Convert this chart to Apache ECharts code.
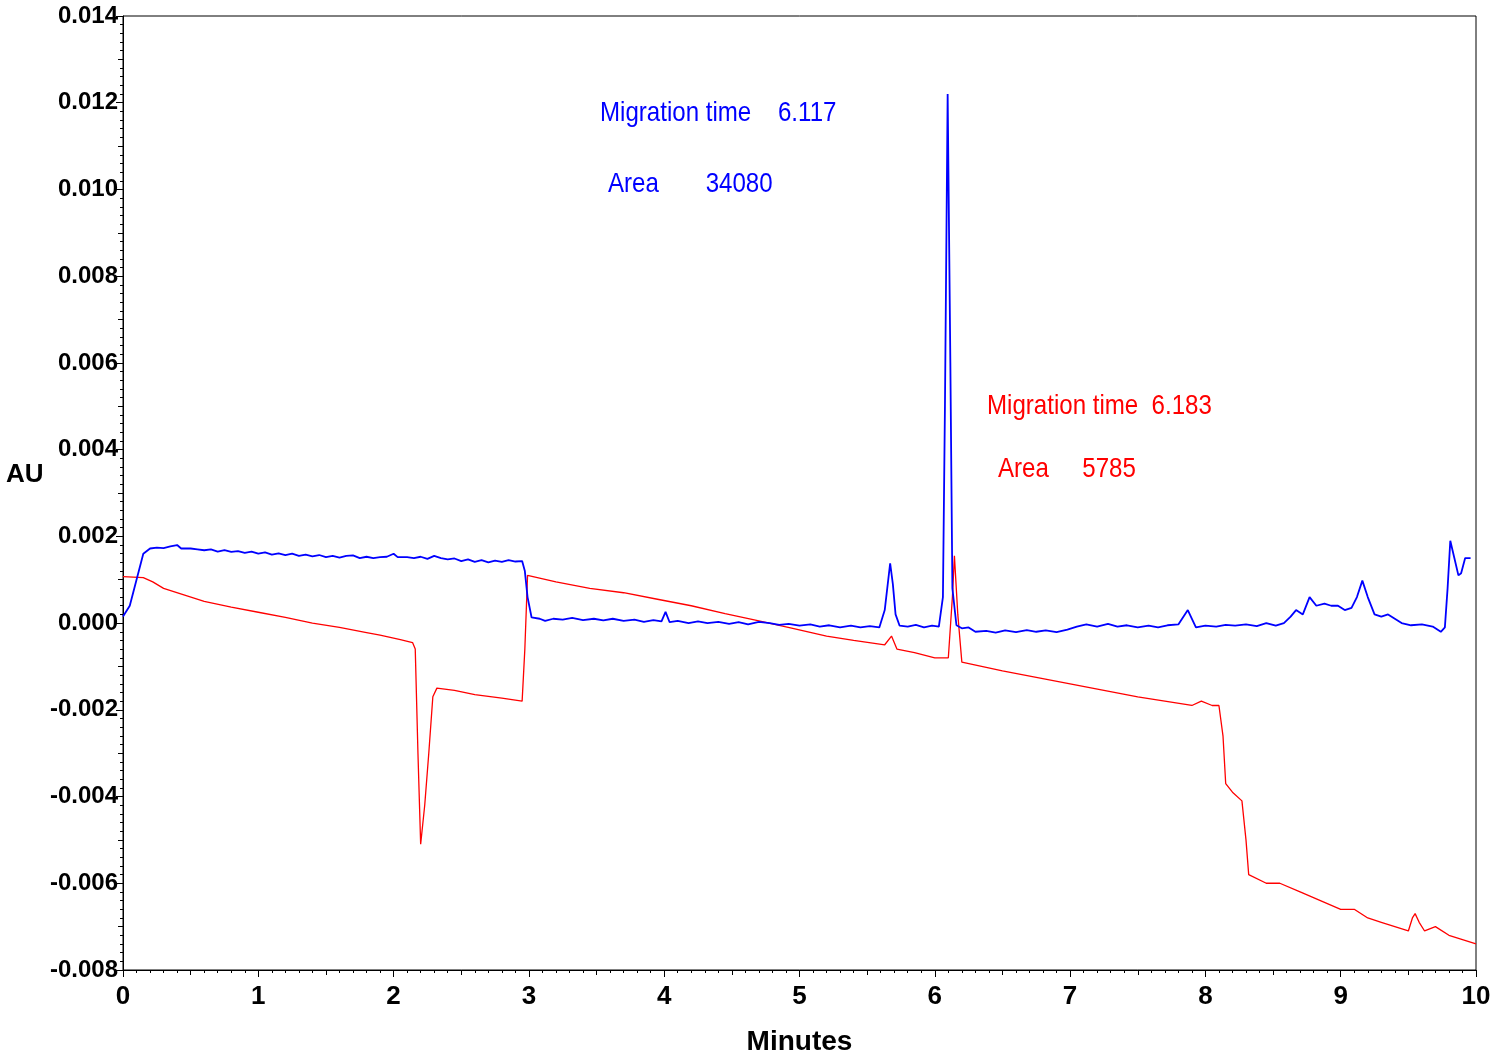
<!DOCTYPE html>
<html>
<head>
<meta charset="utf-8">
<script src="https://cdn.jsdelivr.net/npm/echarts@6/dist/echarts.min.js"></script>
<style>
  html, body { margin: 0; padding: 0; background: #fff; }
  #chart { width: 1494px; height: 1062px; }
</style>
</head>
<body>
<div id="chart"></div>
<script>
// electropherogram traces, [minutes, AU]
const blueTrace = [
  [0.00, 0.00015], [0.05, 0.0004], [0.10, 0.0010], [0.15, 0.0016], [0.20, 0.00172],
  [0.25, 0.00174], [0.30, 0.00173], [0.35, 0.00177], [0.40, 0.0018], [0.43, 0.00172],
  [0.50, 0.00172], [0.55, 0.00170], [0.60, 0.00168], [0.65, 0.00170], [0.70, 0.00165],
  [0.75, 0.00168], [0.80, 0.00164], [0.85, 0.00166], [0.90, 0.00162], [0.95, 0.00165],
  [1.00, 0.00160], [1.05, 0.00163], [1.10, 0.00158], [1.15, 0.00161], [1.20, 0.00157],
  [1.25, 0.00160], [1.30, 0.00155], [1.35, 0.00158], [1.40, 0.00154], [1.45, 0.00157],
  [1.50, 0.00152], [1.55, 0.00155], [1.60, 0.00151], [1.65, 0.00155], [1.70, 0.00156],
  [1.75, 0.00150], [1.80, 0.00153], [1.85, 0.00150], [1.90, 0.00152], [1.95, 0.00153],
  [2.00, 0.00160], [2.03, 0.00152], [2.10, 0.00152], [2.15, 0.00150], [2.20, 0.00153],
  [2.25, 0.00148], [2.30, 0.00155], [2.35, 0.00150], [2.40, 0.00147], [2.45, 0.00149],
  [2.50, 0.00143], [2.55, 0.00147], [2.60, 0.00141], [2.65, 0.00145], [2.70, 0.00140],
  [2.75, 0.00144], [2.80, 0.00141], [2.85, 0.00145], [2.90, 0.00142], [2.95, 0.00143],
  [2.97, 0.00120], [2.99, 0.0006], [3.02, 0.00013], [3.08, 0.0001], [3.12, 0.00005],
  [3.18, 0.0001], [3.25, 0.00008], [3.32, 0.00012], [3.40, 0.00007], [3.48, 0.0001],
  [3.55, 0.00006], [3.62, 0.0001], [3.70, 0.00005], [3.78, 0.00008], [3.85, 0.00003],
  [3.92, 0.00007], [3.98, 0.00004], [4.01, 0.00026], [4.04, 0.00002], [4.10, 0.00005],
  [4.18, 0.0], [4.25, 0.00004], [4.32, 0.0], [4.40, 0.00003], [4.48, -0.00002],
  [4.55, 0.00002], [4.62, -0.00003], [4.70, 0.00003], [4.78, 0.0], [4.85, -0.00004],
  [4.92, -0.00002], [5.00, -0.00006], [5.08, -0.00003], [5.15, -0.00008], [5.22, -0.00005],
  [5.30, -0.0001], [5.38, -0.00006], [5.45, -0.0001], [5.52, -0.00007], [5.59, -0.0001],
  [5.63, 0.0003], [5.67, 0.00138], [5.69, 0.0009], [5.71, 0.0002], [5.74, -0.00006],
  [5.80, -0.00008], [5.86, -0.00004], [5.92, -0.0001], [5.98, -0.00006], [6.03, -0.00008],
  [6.06, 0.0006], [6.075, 0.005], [6.095, 0.0122], [6.115, 0.006], [6.13, 0.0008],
  [6.16, -0.00005], [6.20, -0.00012], [6.25, -0.0001], [6.30, -0.0002], [6.38, -0.00018],
  [6.45, -0.00022], [6.52, -0.00017], [6.60, -0.00021], [6.68, -0.00016], [6.75, -0.0002],
  [6.82, -0.00017], [6.90, -0.00021], [6.98, -0.00015], [7.05, -0.00008], [7.12, -0.00003],
  [7.20, -0.00008], [7.28, -0.00002], [7.35, -0.00008], [7.42, -0.00005], [7.50, -0.0001],
  [7.58, -0.00006], [7.65, -0.0001], [7.72, -0.00005], [7.80, -0.00003], [7.87, 0.0003],
  [7.93, -0.0001], [8.00, -0.00006], [8.08, -0.00008], [8.15, -0.00004], [8.22, -0.00006],
  [8.30, -0.00003], [8.38, -0.00007], [8.45, 0.0], [8.52, -0.00006], [8.58, 0.0],
  [8.63, 0.00015], [8.67, 0.00030], [8.72, 0.0002], [8.77, 0.0006], [8.82, 0.0004],
  [8.88, 0.00045], [8.93, 0.0004], [8.98, 0.0004], [9.03, 0.0003], [9.08, 0.00035],
  [9.12, 0.0006], [9.16, 0.00098], [9.20, 0.0006], [9.25, 0.0002], [9.30, 0.00015],
  [9.35, 0.0002], [9.40, 0.0001], [9.45, 0.0], [9.52, -0.00005], [9.60, -0.00003],
  [9.68, -0.00008], [9.74, -0.0002], [9.77, -0.0001], [9.79, 0.0008], [9.81, 0.0019],
  [9.84, 0.0015], [9.87, 0.0011], [9.89, 0.00115], [9.92, 0.0015], [9.96, 0.0015]
];
const redTrace = [
  [0.00, 0.00107], [0.15, 0.00105], [0.22, 0.00095], [0.30, 0.0008], [0.45, 0.00065],
  [0.60, 0.0005], [0.80, 0.00037], [1.00, 0.00025], [1.20, 0.00013], [1.40, 0.0],
  [1.60, -0.0001], [1.80, -0.00022], [1.90, -0.00028], [2.05, -0.00038], [2.14, -0.00045],
  [2.16, -0.0006], [2.18, -0.003], [2.20, -0.0051], [2.23, -0.0042], [2.26, -0.003],
  [2.29, -0.0017], [2.32, -0.0015], [2.45, -0.00155], [2.60, -0.00165], [2.80, -0.00173],
  [2.95, -0.0018], [2.97, -0.0006], [2.99, 0.0011], [3.20, 0.00095], [3.45, 0.0008],
  [3.70, 0.0007], [3.95, 0.00055], [4.20, 0.0004], [4.45, 0.00022], [4.70, 0.00005],
  [4.95, -0.00012], [5.20, -0.0003], [5.40, -0.0004], [5.63, -0.0005], [5.68, -0.0003],
  [5.72, -0.0006], [5.85, -0.00068], [6.00, -0.0008], [6.10, -0.0008], [6.13, 0.0006],
  [6.145, 0.00155], [6.17, 0.0002], [6.20, -0.0009], [6.50, -0.0011], [6.75, -0.00125],
  [7.00, -0.0014], [7.25, -0.00155], [7.50, -0.0017], [7.70, -0.0018], [7.90, -0.0019],
  [7.97, -0.0018], [8.05, -0.0019], [8.10, -0.0019], [8.13, -0.0026], [8.15, -0.0037],
  [8.20, -0.0039], [8.27, -0.0041], [8.30, -0.005], [8.32, -0.0058], [8.45, -0.0060],
  [8.55, -0.0060], [8.70, -0.0062], [8.85, -0.0064], [9.00, -0.0066], [9.10, -0.0066],
  [9.20, -0.0068], [9.30, -0.0069], [9.40, -0.0070], [9.50, -0.0071], [9.53, -0.0068],
  [9.55, -0.0067], [9.58, -0.0069], [9.62, -0.0071], [9.70, -0.0070], [9.80, -0.0072],
  [9.90, -0.0073], [10.0, -0.0074]
];
const blueNote = ['Migration time    6.117', 'Area       34080'];
const redNote = ['Migration time  6.183', 'Area     5785'];

const FONT = '"Liberation Sans Narrow", "Arial Narrow", "Liberation Sans", Arial, sans-serif';
const noteStyle = (text, color) => ({ text: text, fontFamily: FONT, fontSize: 28, fill: color });

const chart = echarts.init(document.getElementById('chart'));
const option = {
  animation: false,
  backgroundColor: '#fff',
  grid: { left: 123, right: 18, top: 16, bottom: 92, show: true, borderColor: '#000', borderWidth: 1 },
  xAxis: [{
    type: 'value', min: 0, max: 10, interval: 1,
    name: 'Minutes', nameLocation: 'middle', nameGap: 58,
    nameTextStyle: { fontFamily: FONT, fontWeight: 'bold', fontSize: 28, color: '#000' },
    axisLine: { onZero: false, lineStyle: { color: '#000', width: 1 } },
    axisTick: { show: true, length: 7, lineStyle: { color: '#000' } },
    minorTick: { show: true, splitNumber: 10, length: 3, lineStyle: { color: '#000' } },
    axisLabel: { fontFamily: FONT, fontWeight: 'bold', fontSize: 26, color: '#000', margin: 14 },
    splitLine: { show: false }
  }, {
    type: 'value', min: 0, max: 10, interval: 0.5, position: 'bottom',
    axisLine: { show: false, onZero: false }, axisLabel: { show: false }, splitLine: { show: false },
    axisTick: { show: true, length: 5, lineStyle: { color: '#000' } }
  }],
  yAxis: [{
    type: 'value', min: -0.008, max: 0.014, interval: 0.002,
    axisLine: { show: true, onZero: false, lineStyle: { color: '#000', width: 1 } },
    axisTick: { show: true, length: 7, lineStyle: { color: '#000' } },
    minorTick: { show: true, splitNumber: 10, length: 3, lineStyle: { color: '#000' } },
    axisLabel: {
      fontFamily: FONT, fontWeight: 'bold', fontSize: 24, color: '#000', margin: 5,
      formatter: v => v.toFixed(3)
    },
    splitLine: { show: false }
  }, {
    type: 'value', min: -0.008, max: 0.014, interval: 0.001, position: 'left',
    axisLine: { show: false, onZero: false }, axisLabel: { show: false }, splitLine: { show: false },
    axisTick: { show: true, length: 5, lineStyle: { color: '#000' } }
  }],
  graphic: [
    { type: 'text', left: 6, top: 462, style: { text: 'AU', fontFamily: FONT, fontWeight: 'bold', fontSize: 26, fill: '#000' } },
    { type: 'text', x: 600, y: 99, scaleX: 0.86, style: noteStyle(blueNote[0], '#0000ff') },
    { type: 'text', x: 608, y: 170, scaleX: 0.86, style: noteStyle(blueNote[1], '#0000ff') },
    { type: 'text', x: 987, y: 392, scaleX: 0.86, style: noteStyle(redNote[0], '#ff0000') },
    { type: 'text', x: 998, y: 455, scaleX: 0.86, style: noteStyle(redNote[1], '#ff0000') }
  ],
  series: [{
    name: 'red', type: 'line', data: redTrace, showSymbol: false, symbol: 'none',
    lineStyle: { color: '#ff0000', width: 1.3 }, z: 2
  }, {
    name: 'blue', type: 'line', data: blueTrace, showSymbol: false, symbol: 'none',
    lineStyle: { color: '#0000ff', width: 1.8 }, z: 3
  }]
};
chart.setOption(option);
</script>
</body>
</html>
